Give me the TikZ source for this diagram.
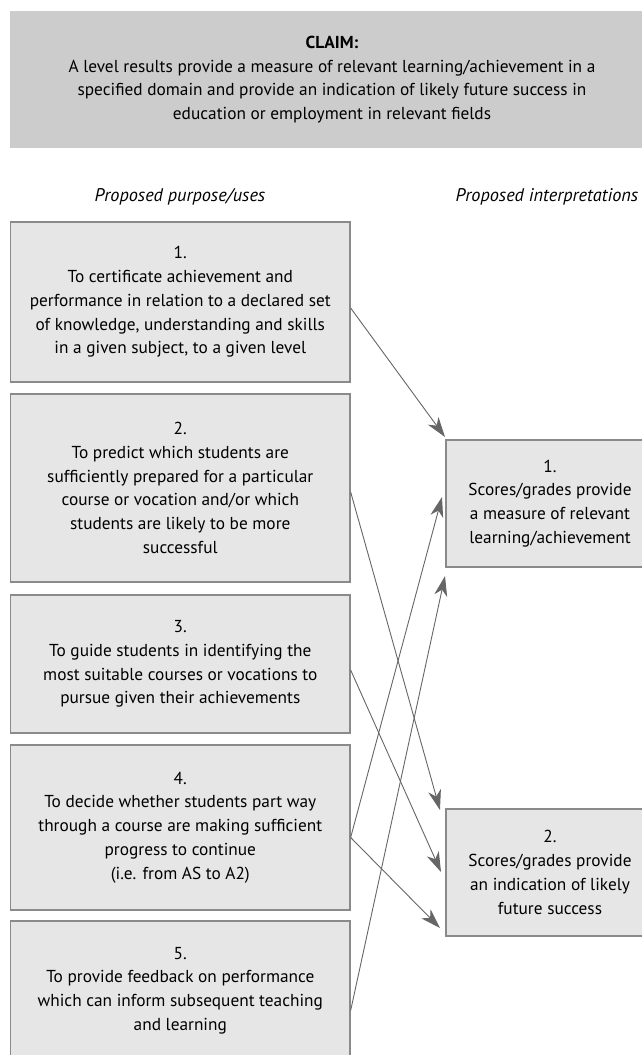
\documentclass[tikz,border=0pt]{standalone}
\usepackage{fontspec}
\setmainfont{PT Sans}
\usetikzlibrary{arrows.meta,calc}
\definecolor{boxfill}{HTML}{E6E6E6}
\definecolor{claimfill}{HTML}{CCCCCC}
\definecolor{boxline}{HTML}{8A8A8A}
\definecolor{arrowline}{HTML}{666666}
\tikzset{
  base/.style={align=center, inner sep=0pt, font=\fontsize{17.3bp}{23.8bp}\selectfont},
  leftbox/.style={base, draw=boxline, line width=1.2bp, fill=boxfill, minimum width=339.5bp},
  rightbox/.style={base, draw=boxline, line width=1.2bp, fill=boxfill, minimum width=208bp, minimum height=127bp},
  claimbox/.style={base, fill=claimfill, minimum width=644bp, minimum height=137bp},
  heading/.style={base, font=\fontsize{18.3bp}{20bp}\selectfont\itshape},
  link/.style={draw=arrowline, line width=0.9bp, -{Stealth[length=20bp,width=13bp,inset=6bp]}}
}
\begin{document}
\begin{tikzpicture}[x=1bp,y=-1bp]
\useasboundingbox (0,0) rectangle (642,1055);
\fill[white] (0,0) rectangle (642,1055);

\node[claimbox] (claim) at (332,79.5) {\textbf{CLAIM:}\\A level results provide a measure of relevant learning/achievement in a\\specified domain and provide an indication of likely future success in\\education or employment in relevant fields};

\node[heading] (hl) at (180,197) {Proposed purpose/uses};
\node[heading] (hr) at (547,197) {Proposed interpretations};

\node[leftbox, minimum height=160bp] (L1) at (180.3,302) {1.\\To certificate achievement and\\performance in relation to a declared set\\of knowledge, understanding and skills\\in a given subject, to a given level};
\node[leftbox, minimum height=188bp] (L2) at (180.3,488) {2.\\To predict which students are\\sufficiently prepared for a particular\\course or vocation and/or which\\students are likely to be more\\successful};
\node[leftbox, minimum height=138bp] (L3) at (180.3,664) {3.\\To guide students in identifying the\\most suitable courses or vocations to\\pursue given their achievements};
\node[leftbox, minimum height=165bp] (L4) at (180.3,827.5) {4.\\To decide whether students part way\\through a course are making sufficient\\progress to continue\\(i.e. from AS to A2)};
\node[leftbox, minimum height=139bp] (L5) at (180.3,990.5) {5.\\To provide feedback on performance\\which can inform subsequent teaching\\and learning};

\node[rightbox] (R1) at (550,503.5) {1.\\Scores/grades provide\\a measure of relevant\\learning/achievement};
\node[rightbox] (R2) at (550,872.5) {2.\\Scores/grades provide\\an indication of likely\\future success};

\coordinate (t1) at (445,437);
\coordinate (t2) at (440,810);
\coordinate (t3) at (441,872);
\coordinate (t4a) at (442,497);
\coordinate (t4b) at (440,928);
\coordinate (t5) at (445,576);

\draw[link] ([yshift=-6bp]L1.east) -- (t1);
\draw[link] ([yshift=-4bp]L2.east) -- (t2);
\draw[link] ([yshift=-6bp]L3.east) -- (t3);
\draw[link] ([yshift=-10bp]L4.east) -- (t4a);
\draw[link] ([yshift=-10bp]L4.east) -- (t4b);
\draw[link] ([yshift=-20bp]L5.east) -- (t5);
\end{tikzpicture}
\end{document}
